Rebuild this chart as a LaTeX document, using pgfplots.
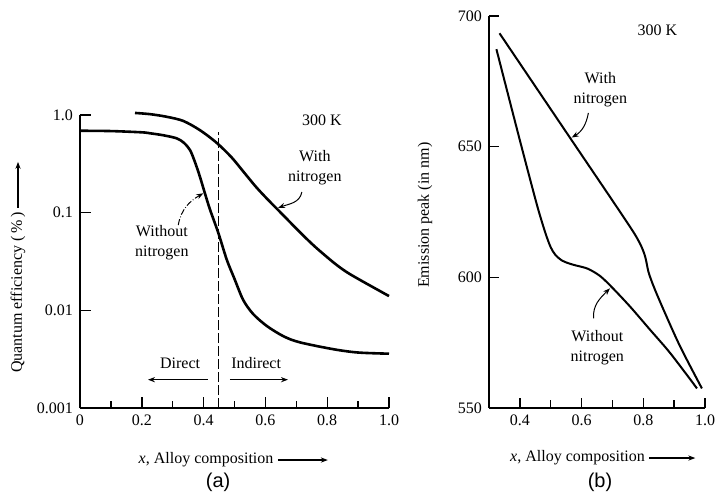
\documentclass[border=0pt]{standalone}
\usepackage{fontspec}
\setmainfont{Liberation Serif}
\newfontfamily\sansf{Liberation Sans}
\usepackage{pgfplots}
\pgfplotsset{compat=1.18}
\usetikzlibrary{arrows.meta}

% common look of both panels
\pgfplotsset{
  panel/.style={
    scale only axis,
    anchor=south west,
    clip=false,
    axis x line*=bottom,
    axis y line*=left,
    axis line style={line width=0.9pt},
    tick align=inside,
    tick style={black, line width=0.7pt},
    every tick label/.append style={font=\fontsize{8}{9.6}\selectfont},
  },
}

\begin{document}
\begin{tikzpicture}[font=\fontsize{8}{10}\selectfont, >={Stealth[length=3.5pt,width=2.6pt]}]
\path[use as bounding box] (0,0) rectangle (357.5pt,247.5pt);

% ---------------- (a) quantum efficiency ----------------
\begin{axis}[panel,
    at={(40pt,43.5pt)}, width=154.5pt, height=146.5pt,
    ymode=log, xmin=0, xmax=1, ymin=0.001, ymax=1,
    xtick={0,0.2,0.4,0.6,0.8,1.0},
    xticklabels={0,0.2,0.4,0.6,0.8,1.0},
    minor xtick={0.1,0.3,0.5,0.7,0.9},
    ytick={0.001,0.01,0.1,1},
    yticklabels={0.001,0.01,0.1,1.0},
    yminorticks=false,
    major tick length=5.5pt, minor tick length=3.5pt,
  ]
  % without nitrogen
  \addplot[line width=1.3pt, smooth, tension=0.5] coordinates {
    (0,0.69) (0.1,0.685) (0.2,0.665) (0.227,0.65) (0.27,0.62)
    (0.313,0.577) (0.336,0.52) (0.356,0.438) (0.372,0.33) (0.388,0.234)
    (0.405,0.155) (0.421,0.107) (0.448,0.0616) (0.475,0.033) (0.5,0.021)
    (0.528,0.0128) (0.56,0.0092) (0.605,0.0069) (0.66,0.0054)
    (0.712,0.0047) (0.82,0.004) (0.9,0.0037) (1.0,0.0036)
  };
  % with nitrogen
  \addplot[line width=1.3pt, smooth, tension=0.5] coordinates {
    (0.178,1.05) (0.227,1.02) (0.28,0.96) (0.334,0.87) (0.388,0.70)
    (0.442,0.52) (0.49,0.37) (0.528,0.265) (0.57,0.183) (0.609,0.135)
    (0.647,0.102) (0.712,0.063) (0.76,0.045) (0.82,0.031) (0.86,0.025)
    (0.906,0.0205) (1.0,0.014)
  };
  \draw[dash pattern=on 5pt off 1.5pt, line width=0.5pt]
    (axis cs:0.448,0.001) -- (axis cs:0.448,0.675);

  \node at (axis cs:0.783,0.89) {300 K};
  \node[align=center] at (axis cs:0.76,0.288) {With\\nitrogen};
  \draw[->, line width=0.5pt] (axis cs:0.718,0.163) to[out=-100,in=20] (axis cs:0.641,0.112);
  \node[align=center] at (axis cs:0.265,0.049) {Without\\nitrogen};
  \draw[->, densely dashdotted, line width=0.5pt] (axis cs:0.318,0.0748) to[out=80,in=210] (axis cs:0.399,0.158);

  \node at (axis cs:0.324,0.0029) {Direct};
  \node at (axis cs:0.57,0.0029) {Indirect};
  \draw[->, line width=0.7pt] (axis cs:0.414,0.00195) -- (axis cs:0.22,0.00195);
  \draw[->, line width=0.7pt] (axis cs:0.485,0.00195) -- (axis cs:0.673,0.00195);

  \node[inner sep=1pt] (xla) at (rel axis cs:0.408,-0.1775) {\textit{x}, Alloy composition};
  \node[rotate=90, inner sep=1pt] (yla) at (rel axis cs:-0.2006,0.394) {Quantum efficiency (\,\%\,)};
  \node at (rel axis cs:0.447,-0.253) {\sansf\fontsize{10}{12}\selectfont (a)};
\end{axis}

% ---------------- (b) emission peak ----------------
\begin{axis}[panel,
    at={(244.5pt,43.5pt)}, width=108pt, height=196pt,
    xmin=0.3, xmax=1.0, ymin=550, ymax=700,
    xtick={0.4,0.6,0.8,1.0},
    xticklabels={0.4,0.6,0.8,1.0},
    minor xtick={0.5,0.7,0.9},
    ytick={550,600,650,700},
    yticklabels={550,600,650,700},
    major tick length=5pt, minor tick length=4pt,
  ]
  % without nitrogen
  \addplot[line width=1pt, smooth, tension=0.5] coordinates {
    (0.324,687.3) (0.397,653.8) (0.451,629.6) (0.472,621) (0.487,615.5)
    (0.5,611.5) (0.515,608.6) (0.537,606.4) (0.56,605.3) (0.58,604.6)
    (0.62,603.3) (0.66,600.5) (0.7,596) (0.758,588.7) (0.823,579.8)
    (0.888,570.9) (0.974,557.5)
  };
  % with nitrogen
  \addplot[line width=1pt, smooth, tension=0.5] coordinates {
    (0.334,693.4) (0.45,673.1) (0.57,652.1) (0.68,632.9) (0.742,622)
    (0.775,616) (0.795,611.5) (0.807,607.5) (0.817,602) (0.834,596.4)
    (0.866,587.5) (0.92,573.4) (0.99,557.5)
  };

  \node at (axis cs:0.846,694.6) {300 K};
  \node[align=center] at (axis cs:0.661,671.7) {With\\nitrogen};
  \draw[->, line width=0.5pt] (axis cs:0.622,662.9) to[out=-100,in=30] (axis cs:0.568,653.5);
  \node[align=center] at (axis cs:0.651,573) {Without\\nitrogen};
  \draw[->, line width=0.5pt] (axis cs:0.639,584.3) to[out=95,in=225] (axis cs:0.692,595.8);

  \node[inner sep=1pt] (xlb) at (rel axis cs:0.41,-0.1276) {\textit{x}, Alloy composition};
  \node[rotate=90] at (rel axis cs:-0.296,0.492) {Emission peak (in nm)};
  \node at (rel axis cs:0.514,-0.189) {\sansf\fontsize{10}{12}\selectfont (b)};
\end{axis}

% long arrows that follow the axis labels
\draw[->, line width=0.7pt] ([xshift=1pt]xla.east) -- ++(25pt,0);
\draw[->, line width=0.7pt] ([yshift=1pt]yla.east) -- ++(0,23pt);
\draw[->, line width=0.7pt] ([xshift=1pt]xlb.east) -- ++(23pt,0);
\end{tikzpicture}
\end{document}
